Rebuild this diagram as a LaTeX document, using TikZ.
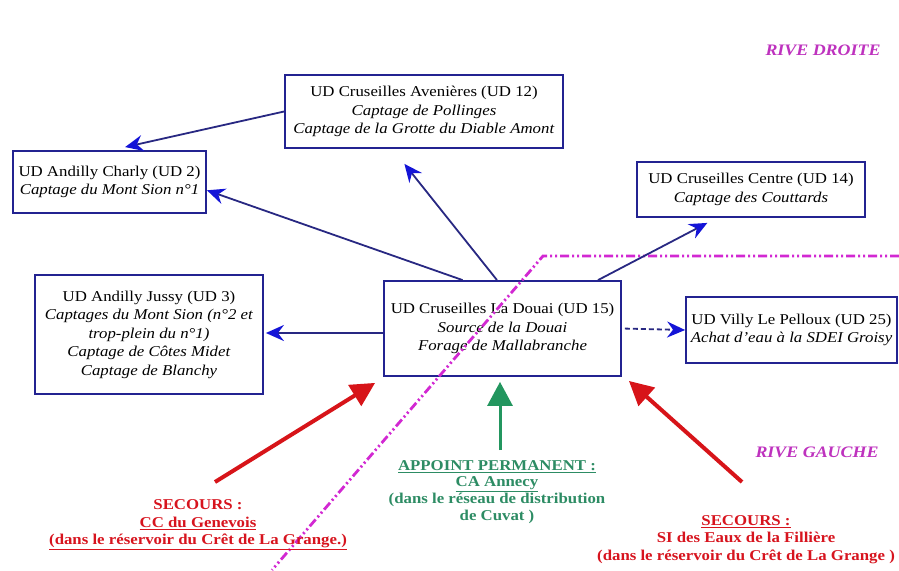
\documentclass[tikz,border=0pt]{standalone}
\usepackage{fontspec}
\setmainfont{Liberation Serif}[FakeStretch=1.12]
\usetikzlibrary{arrows.meta,calc}
\definecolor{boxblue}{RGB}{35,35,145}
\definecolor{lineblue}{RGB}{40,40,130}
\definecolor{tipblue}{RGB}{20,20,215}
\definecolor{redarr}{RGB}{215,20,25}
\definecolor{redtext}{RGB}{215,20,30}
\definecolor{greenarr}{RGB}{35,150,95}
\definecolor{greentext}{RGB}{45,140,100}
\definecolor{pinkline}{RGB}{210,40,210}
\definecolor{rivetext}{RGB}{190,50,190}
\begin{document}
\begin{tikzpicture}[x=1pt,y=-1pt,
  box/.style={draw=boxblue,line width=1.8pt,fill=white,inner sep=0pt,align=center,
    font=\fontsize{15}{18.5}\selectfont},
  conn/.style={draw=lineblue,line width=1.8pt,
    -{Stealth[length=18pt,width=16pt,inset=6pt,color=tipblue]}},
  redarrow/.style={draw=redarr,line width=4pt,-{Triangle[length=24pt,width=24pt]}},
  greenarrow/.style={draw=greenarr,line width=3pt,-{Triangle[length=24pt,width=25pt]}},
  redlabel/.style={text=redtext,align=center,inner sep=0pt,font=\fontsize{15}{17.5}\selectfont\bfseries\color{redtext}},
  greenlabel/.style={text=greentext,align=center,inner sep=0pt,font=\fontsize{15}{16.8}\selectfont\bfseries\color{greentext}},
  rive/.style={text=rivetext,inner sep=0pt,font=\fontsize{16}{18}\selectfont\bfseries\itshape},
  bankline/.style={draw=pinkline,line width=2.8pt,dash pattern=on 9pt off 3pt on 2pt off 3pt on 2pt off 3pt}
]
\useasboundingbox[fill=white] (0,0) rectangle (899,570);

% boxes
\node[box,minimum width=278pt,minimum height=73pt] (aven) at (424,111.5)
  {UD Cruseilles Avenières (UD 12)\\\textit{Captage de Pollinges}\\\textit{Captage de la Grotte du Diable Amont}};
\node[box,minimum width=193pt,minimum height=62pt] (charly) at (109.5,182)
  {UD Andilly Charly (UD 2)\\\textit{Captage du Mont Sion n°1}};
\node[box,minimum width=228pt,minimum height=55pt] (centre) at (751,189.5)
  {UD Cruseilles Centre (UD 14)\\\textit{Captage des Couttards}};
\node[box,minimum width=228pt,minimum height=119pt] (jussy) at (149,334.5)
  {UD Andilly Jussy (UD 3)\\\textit{Captages du Mont Sion (n°2 et}\\\textit{trop-plein du n°1)}\\\textit{Captage de Côtes Midet}\\\textit{Captage de Blanchy}};
\node[box,minimum width=237pt,minimum height=95pt] (douai) at (502.5,328.5)
  {UD Cruseilles La Douai (UD 15)\\\textit{Source de la Douai}\\\textit{Forage de Mallabranche}};
\node[box,minimum width=211pt,minimum height=66pt] (villy) at (791.5,330)
  {UD Villy Le Pelloux (UD 25)\\\textit{Achat d'eau à la SDEI Groisy}};

% bank line
\draw[bankline] (899,256) -- (543,256) -- (272,570);

% blue connectors
\draw[conn] ($(douai.north west)!0.333!(douai.north east)$) -- ($(charly.north east)!0.63!(charly.south east)$);
\draw[conn] ($(douai.north west)!0.477!(douai.north east)$) -- ($(aven.south west)!0.43!(aven.south east)+(0,15)$);
\draw[conn] ($(douai.north west)!0.9!(douai.north east)$) -- ($(centre.south west)!0.31!(centre.south east)+(0,5)$);
\draw[conn] (aven.west) -- ($(charly.north west)!0.58!(charly.north east)+(0,-3)$);
\coordinate (jl) at ([yshift=-4.5pt]douai.west);
\draw[conn] (jl) -- ([xshift=2pt]jl -| jussy.east);
\draw[conn,dash pattern=on 5pt off 3pt,shorten <=3pt] (douai.east) -- (villy.west);

% supply arrows
\coordinate (rl) at (215,482);
\draw[redarrow] (rl) -- ($(douai.south west)+(-8,6)$);
\coordinate (rr) at (742,482);
\draw[redarrow] (rr) -- ($(douai.south east)+(7,4)$);
\coordinate (ga) at (500,450);
\draw[greenarrow] (ga) -- ($(ga |- douai.south)+(0,5)$);

% labels
\node[redlabel] (secl) at (198,525)
  {SECOURS :\\\underline{CC du Genevois}\\\underline{(dans le réservoir du Crêt de La Grange.)}};
\node[redlabel] (secr) at (746,539.5)
  {\underline{SECOURS :}\\SI des Eaux de la Fillière\\(dans le réservoir du Crêt de La Grange )};
\node[greenlabel] (appoint) at (497,492)
  {\underline{APPOINT PERMANENT :}\\\underline{CA Annecy}\\(dans le réseau de distribution\\de Cuvat )};
\node[rive] (rd) at (823,50) {RIVE DROITE};
\node[rive] (rg) at (817,452) {RIVE GAUCHE};
\end{tikzpicture}
\end{document}
